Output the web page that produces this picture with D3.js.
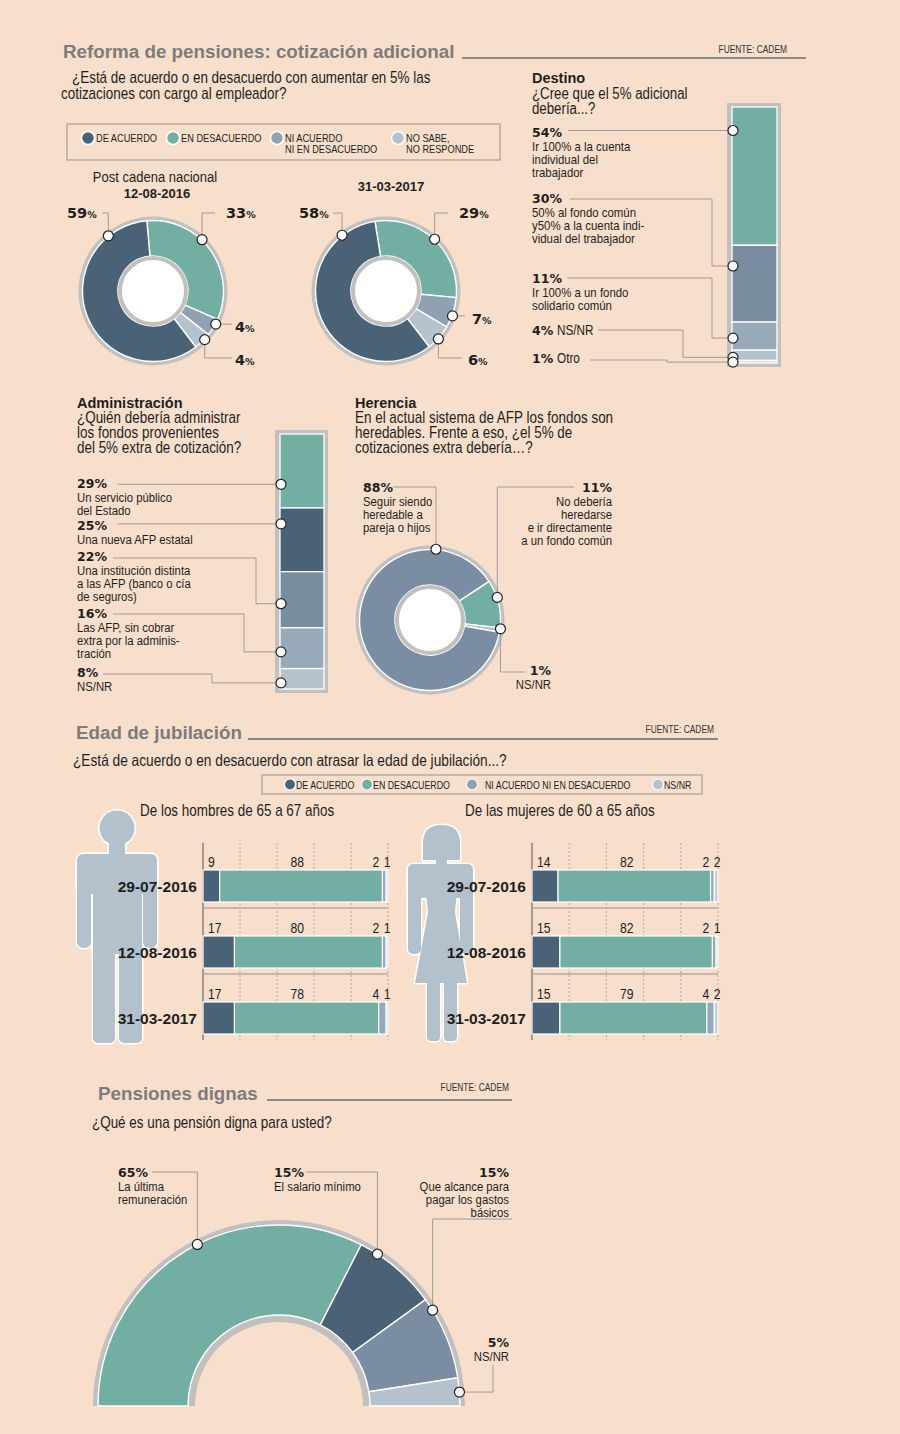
<!DOCTYPE html>
<html lang="es">
<head>
<meta charset="utf-8">
<title>Reforma de pensiones</title>
<script src="https://cdn.jsdelivr.net/npm/d3@7/dist/d3.min.js"></script>
<style>
html,body{margin:0;padding:0;background:#f8dfcb;}
svg{display:block;}
</style>
</head>
<body>
<svg id="chart" width="900" height="1434"></svg>
<script>
// ================= DATA =================
const legendCategories = [["DE ACUERDO"],["EN DESACUERDO"],["NI ACUERDO","NI EN DESACUERDO"],["NO SABE,","NO RESPONDE"]];
const legendCategories2 = ["DE ACUERDO","EN DESACUERDO","NI ACUERDO NI EN DESACUERDO","NS/NR"];

const cotizDates = ["12-08-2016","31-03-2017"];
const cotiz2016 = [59,33,4,4];   // de acuerdo, en desacuerdo, ni/ni, ns/nr
const cotiz2017 = [58,29,7,6];

const destinoValues = [54,30,11,4,1];
const destinoLabels = [
  ["Ir 100% a la cuenta","individual del","trabajador"],
  ["50% al fondo común","y50% a la cuenta indi-","vidual del trabajador"],
  ["Ir 100% a un fondo","solidario común"],
  ["NS/NR"],
  ["Otro"]
];

const adminValues = [29,25,22,16,8];
const adminLabels = [
  ["Un servicio público","del Estado"],
  ["Una nueva AFP estatal"],
  ["Una institución distinta","a las AFP (banco o cía","de seguros)"],
  ["Las AFP, sin cobrar","extra por la adminis-","tración"],
  ["NS/NR"]
];

const herenciaValues = [88,11,1];
const herenciaLabels = [
  ["Seguir siendo","heredable a","pareja o hijos"],
  ["No debería","heredarse","e ir directamente","a un fondo común"],
  ["NS/NR"]
];

const edadDates = ["29-07-2016","12-08-2016","31-03-2017"];
const edadHombres = [[9,88,2,1],[17,80,2,1],[17,78,4,1]];
const edadMujeres = [[14,82,2,2],[15,82,2,1],[15,79,4,2]];
const barTicks = [0,20,40,60,80,100];

const dignaValues = [65,15,15,5];
const dignaLabels = [["La última","remuneración"],["El salario mínimo"],["Que alcance para","pagar los gastos","básicos"],["NS/NR"]];

// ================= STYLE =================
const FN = "narrow";                                   // narrow body text (Liberation Sans compressed)
const FNF = "'Liberation Sans',Arial,sans-serif";
const SX = 0.84;
const FB = "'Liberation Sans',Arial,sans-serif";
const FW = "'DejaVu Sans',Verdana,sans-serif";
const INK = "#1e1e1e";
const TITLE = "#7c7c7c";
const RING = "#c2c0bf";
const LEAD = "#9c9c9c";
const C = {dark:"#4a6275", teal:"#72afa2", slate:"#7a8ca0", mid:"#98a9b9", light:"#b4c2ce", pale:"#d3dbe2", sil:"#b3c1cd"};
const donutColors = [C.dark, C.teal, "#8fa1b3", C.light];
const rad = d => d*Math.PI/180;

const svg = d3.select("#chart");
svg.append("rect").attr("width",900).attr("height",1434).attr("fill","#f8dfcb");

// ================= HELPERS =================
function txt(g,x,y,s,o={}){
  const ff=o.ff||FN, narrow=(ff===FN);
  const t=g.append("text").text(s)
    .attr("font-family",narrow?FNF:ff).attr("font-size",o.fs||13)
    .attr("font-weight",o.fw||"normal").attr("fill",o.fill||INK)
    .attr("text-anchor",o.anchor||"start");
  if(narrow) t.attr("transform",`translate(${x},${y}) scale(${SX},1)`);
  else t.attr("x",x).attr("y",y);
  return t;
}
function lines(g,x,y,arr,lh,o){ arr.forEach((s,i)=>txt(g,x,y+i*lh,s,o)); }
function pctSmall(g,x,y,v,anchor){
  const t=g.append("text").attr("x",x).attr("y",y).attr("text-anchor",anchor||"start").attr("fill",INK);
  t.append("tspan").text(v).attr("font-family",FW).attr("font-weight","bold").attr("font-size",14.5);
  t.append("tspan").text("%").attr("font-family",FW).attr("font-weight","bold").attr("font-size",9.5);
}
function pctBig(g,x,y,v,anchor){
  g.append("text").attr("x",x).attr("y",y).attr("text-anchor",anchor||"start").attr("fill",INK)
    .attr("font-family",FW).attr("font-weight","bold").attr("font-size",12.5).text(v+"%");
}
function leader(g,pts){
  g.append("path").attr("d",d3.line()(pts)).attr("fill","none").attr("stroke",LEAD).attr("stroke-width",1);
}
function leaderPts(type,L,m){
  const [mx,my]=m;
  if(type==="hv") return [[L.lx,L.ly],[mx,L.ly],[mx,my]];
  if(type==="vh") return [[mx,my],[mx,L.ly],[L.lx,L.ly]];
  if(type==="h") return [[L.lx,my],[mx,my]];
  if(type==="hvh") return [[L.lx,L.ly],[L.ex,L.ly],[L.ex,my],[mx,my]];
  if(type==="vhm") return [[L.lx,L.ly],[L.lx,my],[mx,my]];
  return [];
}
function marker(g,p){
  g.append("circle").attr("cx",p[0]).attr("cy",p[1]).attr("r",5).attr("fill","#fff").attr("stroke","#222").attr("stroke-width",1.2);
}
function header(g,x,y,title,lineX0,lineX1,srcX,srcY){
  txt(g,x,y,title,{ff:FB,fw:"bold",fs:18.8,fill:TITLE});
  g.append("line").attr("x1",lineX0).attr("x2",lineX1).attr("y1",y).attr("y2",y).attr("stroke","#8a8a8a").attr("stroke-width",2);
  txt(g,srcX,srcY,"FUENTE: CADEM",{fs:10,anchor:"end",fill:"#333"});
}

function donut(g,cx,cy,values,order,colors,startDeg,fracs){
  const pie=d3.pie().sort(null).value(d=>d.v).startAngle(rad(startDeg)).endAngle(rad(startDeg)+2*Math.PI);
  const arcs=pie(order.map(i=>({i,v:values[i]})));
  g.append("circle").attr("cx",cx).attr("cy",cy).attr("r",74.5).attr("fill",RING);
  const arc=d3.arc().innerRadius(35).outerRadius(70.5);
  g.selectAll(null).data(arcs).join("path")
    .attr("transform",`translate(${cx},${cy})`).attr("d",arc)
    .attr("fill",d=>colors[d.data.i]).attr("stroke","#fff").attr("stroke-width",1.4);
  g.append("circle").attr("cx",cx).attr("cy",cy).attr("r",33).attr("fill","#fff").attr("stroke",RING).attr("stroke-width",4);
  const pos=[];
  arcs.forEach(a=>{const ang=a.startAngle+fracs[a.data.i]*(a.endAngle-a.startAngle);
    pos[a.data.i]=[cx+71*Math.sin(ang),cy-71*Math.cos(ang)];});
  return pos;
}

function vbar(g,x,w,y0,y1,values,colors,fracs){
  g.append("rect").attr("x",x-5).attr("y",y0-4).attr("width",w+9).attr("height",y1-y0+8).attr("fill",RING);
  const y=d3.scaleLinear().domain([0,100]).range([y0,y1]);
  let cum=0;
  const segs=values.map((v,i)=>{const s={i,a:cum,b:cum+v};cum+=v;return s;});
  g.selectAll(null).data(segs).join("rect")
    .attr("x",x).attr("width",w).attr("y",d=>y(d.a)).attr("height",d=>y(d.b)-y(d.a))
    .attr("fill",d=>colors[d.i]).attr("stroke","#fff").attr("stroke-width",1.3);
  return segs.map(s=>[x+1,y(s.a)+fracs[s.i]*(y(s.b)-y(s.a))]);
}

// ================= SECTION 1 =================
const s1=svg.append("g");
header(s1,63,58,"Reforma de pensiones: cotización adicional",462,806,787,53);
txt(s1,72,83,"¿Está de acuerdo o en desacuerdo con aumentar en 5% las",{fs:16});
txt(s1,61,99,"cotizaciones con cargo al empleador?",{fs:16});

// legend 1
s1.append("rect").attr("x",67).attr("y",124).attr("width",433).attr("height",36).attr("fill","none").attr("stroke","#b5aca5").attr("stroke-width",1.5);
const leg1X=[88,173,277,398];
legendCategories.forEach((c,i)=>{
  s1.append("circle").attr("cx",leg1X[i]).attr("cy",138).attr("r",6.5).attr("fill",donutColors[i]).attr("stroke","#fff").attr("stroke-width",1.5);
  lines(s1,leg1X[i]+8,142,c,11,{fs:11});
});

txt(s1,155,182,"Post cadena nacional",{fs:15.5,anchor:"middle"});
txt(s1,157,198,cotizDates[0],{ff:FB,fw:"bold",fs:13,anchor:"middle"});
txt(s1,391,191,cotizDates[1],{ff:FB,fw:"bold",fs:13,anchor:"middle"});

const donutOrder=[1,2,3,0];
const d1=s1.append("g"), d2=s1.append("g");
const m1=donut(d1,153,291,cotiz2016,donutOrder,donutColors,-5,[0.84,0.41,0.28,0.35]);
const m2=donut(d2,386,291,cotiz2017,donutOrder,donutColors,-9,[0.86,0.5,0.6,0.55]);

const d1Lab=[{x:67,y:218,t:"hv",lx:102,ly:213},{x:226,y:218,t:"hv",lx:215,ly:213},{x:235,y:332,t:"h",lx:232},{x:235,y:365,t:"vh",lx:232,ly:358}];
const d2Lab=[{x:299,y:218,t:"hv",lx:333,ly:213},{x:459,y:218,t:"hv",lx:448,ly:213},{x:472,y:324,t:"h",lx:465},{x:468,y:365,t:"vh",lx:462,ly:358}];
[[cotiz2016,m1,d1Lab],[cotiz2017,m2,d2Lab]].forEach(([vals,ms,labs])=>{
  labs.forEach((L,i)=>{ leader(s1,leaderPts(L.t,L,ms[i])); pctSmall(s1,L.x,L.y,vals[i]); });
  ms.forEach(p=>marker(s1,p));
});

// ---- Destino ----
const sd=svg.append("g");
txt(sd,532,83,"Destino",{ff:FB,fw:"bold",fs:14.5});
txt(sd,532,99,"¿Cree que el 5% adicional",{fs:15.8});
txt(sd,532,114,"debería...?",{fs:15.8});
const destColors=[C.teal,C.slate,C.mid,C.light,C.pale];
const dm=vbar(sd,732,45,107,363,destinoValues,destColors,[0.17,0.27,0.57,0.7,0.67]);
const destLab=[
  {y:137,t:"h",lx:568},
  {y:203,t:"hvh",lx:570,ly:199,ex:712},
  {y:283,t:"hvh",lx:567,ly:278,ex:712},
  {y:335,t:"hvh",lx:598,ly:330,ex:683,inline:true},
  {y:363,t:"hvh",lx:590,ly:360,ex:667,inline:true}
];
destLab.forEach((L,i)=>{
  leader(sd,leaderPts(L.t,L,dm[i]));
  pctBig(sd,532,L.y,destinoValues[i]);
  if(L.inline){ txt(sd,557,L.y,destinoLabels[i][0],{fs:14}); }
  else { lines(sd,532,L.y+14,destinoLabels[i],13,{fs:13.6}); }
});
dm.forEach(p=>marker(sd,p));

// ================= SECTION 2 =================
const sa=svg.append("g");
txt(sa,77,408,"Administración",{ff:FB,fw:"bold",fs:14.5});
lines(sa,77,423,["¿Quién debería administrar","los fondos provenientes","del 5% extra de cotización?"],15,{fs:16});
const adminColors=[C.teal,C.dark,C.slate,C.mid,C.light];
const am=vbar(sa,280,44,434,689,adminValues,adminColors,[0.68,0.25,0.57,0.59,0.7]);
const adminLab=[
  {y:488,t:"h",lx:118},
  {y:530,t:"h",lx:118},
  {y:561,t:"hvh",lx:113,ly:558,ex:256},
  {y:618,t:"hvh",lx:113,ly:614,ex:244},
  {y:677,t:"hvh",lx:103,ly:674,ex:212}
];
adminLab.forEach((L,i)=>{
  leader(sa,leaderPts(L.t,L,am[i]));
  pctBig(sa,77,L.y,adminValues[i]);
  lines(sa,77,L.y+14,adminLabels[i],13,{fs:13.5});
});
am.forEach(p=>marker(sa,p));

// ---- Herencia ----
const sh=svg.append("g");
txt(sh,355,408,"Herencia",{ff:FB,fw:"bold",fs:14.5});
lines(sh,355,423,["En el actual sistema de AFP los fondos son","heredables. Frente a eso, ¿el 5% de","cotizaciones extra debería…?"],15,{fs:16});
const herColors=["#7a8da2",C.teal,C.light];
const hm=donut(sh,430,620,herenciaValues,[1,2,0],herColors,56.8,[0.836,0.37,0.2]);
const herLab=[
  {x:363,y:492,anchor:"start",t:"hv",lx:393,ly:487},
  {x:612,y:492,anchor:"end",t:"hv",lx:574,ly:487},
  {x:551,y:675,anchor:"end",t:"vh",lx:525,ly:672}
];
herLab.forEach((L,i)=>{
  leader(sh,leaderPts(L.t,L,hm[i]));
  pctBig(sh,L.x,L.y,herenciaValues[i],L.anchor);
  lines(sh,L.x,L.y+14,herenciaLabels[i],13,{fs:13.5,anchor:L.anchor});
});
hm.forEach(p=>marker(sh,p));

// ================= SECTION 3 =================
const se=svg.append("g");
header(se,76,739,"Edad de jubilación",248,718,714,733);
txt(se,73,766,"¿Está de acuerdo o en desacuerdo con atrasar la edad de jubilación...?",{fs:16.3});
se.append("rect").attr("x",262).attr("y",775).attr("width",440).attr("height",19).attr("fill","none").attr("stroke","#b5aca5").attr("stroke-width",1.5);
const leg2X=[290,367,472,658];
const barColors=[C.dark,C.teal,"#95a7b9","#c3ced8"];
legendCategories2.forEach((c,i)=>{
  se.append("circle").attr("cx",leg2X[i]).attr("cy",784.5).attr("r",5.5).attr("fill",[C.dark,C.teal,"#8fa1b3",C.light][i]).attr("stroke","#fff").attr("stroke-width",1.2);
  txt(se,leg2X[i]+(i===2?13:6),788.5,c,{fs:10.5});
});
txt(se,140,816,"De los hombres de 65 a 67 años",{fs:16});
txt(se,465,816,"De las mujeres de 60 a 65 años",{fs:16});

// silhouettes
function silhouette(g,pieces){
  const a=g.append("g"), b=g.append("g");
  [a,b].forEach((layer,k)=>{
    pieces.forEach(p=>{
      let el;
      if(p.c) el=layer.append("circle").attr("cx",p.c[0]).attr("cy",p.c[1]).attr("r",p.c[2]);
      else if(p.r) el=layer.append("rect").attr("x",p.r[0]).attr("y",p.r[1]).attr("width",p.r[2]).attr("height",p.r[3]).attr("rx",p.r[4]||0);
      else el=layer.append("path").attr("d",p.d);
      el.attr("fill",C.sil);
      if(k===0) el.attr("stroke","#fff").attr("stroke-width",3).attr("stroke-linejoin","round");
    });
  });
}
silhouette(se,[
  {c:[117,828,17.5]},
  {r:[109,840,16,18]},
  {r:[77,854,80,40,9]},
  {r:[77,854,14,94,6]},
  {r:[143,854,14,94,6]},
  {r:[93,854,49,100]},
  {r:[93,940,22,103,5]},
  {r:[119,940,23,103,5]}
]);
silhouette(se,[
  {d:"M423,860 L423,843 Q423,825 441.5,825 Q460,825 460,843 L460,860 Z"},
  {r:[436,852,11,16]},
  {r:[408,864,65,34,9]},
  {r:[408,864,13,90,5]},
  {r:[460,864,13,90,5]},
  {d:"M423,866 L459,866 L455,912 L467,983 L415,983 L428,912 Z"},
  {r:[427,975,13,66,4]},
  {r:[444,975,13,66,4]}
]);

function hbars(g,x0,x1,rows){
  const x=d3.scaleLinear().domain([0,100]).range([x0,x1]);
  const y=d3.scalePoint().domain(edadDates).range([886,1018]);
  g.selectAll(null).data(barTicks.slice(1)).join("line")
    .attr("x1",d=>x(d)).attr("x2",d=>x(d)).attr("y1",843).attr("y2",1040)
    .attr("stroke","#a09a96").attr("stroke-width",0.8).attr("stroke-dasharray","2,2");
  g.append("line").attr("x1",x(0)).attr("x2",x(0)).attr("y1",843).attr("y2",1040).attr("stroke","#555").attr("stroke-width",1);
  edadDates.slice(0,2).forEach(dt=>{
    g.append("line").attr("x1",x(0)).attr("x2",x(100)).attr("y1",y(dt)+22).attr("y2",y(dt)+22).attr("stroke","#b3aaa3").attr("stroke-width",1.5);
  });
  const labAt=[{v:0,dx:5,a:"start"},{v:51,dx:0,a:"middle"},{v:93.5,dx:0,a:"middle"},{v:99.5,dx:0,a:"middle"}];
  rows.forEach((vals,r)=>{
    const dt=edadDates[r], cy=y(dt);
    let cum=0;
    const segs=vals.map((v,i)=>{const s={i,a:cum,b:cum+v};cum+=v;return s;});
    g.selectAll(null).data(segs).join("rect")
      .attr("x",d=>x(d.a)).attr("width",d=>x(d.b)-x(d.a)).attr("y",cy-16).attr("height",32)
      .attr("fill",d=>barColors[d.i]).attr("stroke","#fff").attr("stroke-width",1.2);
    vals.forEach((v,i)=>txt(g,x(labAt[i].v)+labAt[i].dx,cy-19.5,v,{fs:14.5,anchor:labAt[i].a}));
    txt(g,x0-6,cy+6,dt,{ff:FB,fw:"bold",fs:15.5,anchor:"end"});
  });
}
hbars(se,203,388,edadHombres);
hbars(se,532,718,edadMujeres);

// ================= SECTION 4 =================
const sp=svg.append("g");
header(sp,98,1100,"Pensiones dignas",267,512,509,1091);
txt(sp,92,1128,"¿Qué es una pensión digna para usted?",{fs:16});
const pcx=279, pcy=1406;
sp.append("path").attr("transform",`translate(${pcx},${pcy})`)
  .attr("d",d3.arc()({innerRadius:84,outerRadius:186,startAngle:-Math.PI/2,endAngle:Math.PI/2}))
  .attr("fill",RING);
const dignaColors=[C.teal,C.dark,"#7a8da2",C.light];
const half=d3.pie().sort(null).startAngle(-Math.PI/2).endAngle(Math.PI/2)(dignaValues);
sp.selectAll(null).data(half).join("path").attr("transform",`translate(${pcx},${pcy})`)
  .attr("d",d3.arc().innerRadius(91).outerRadius(181)).attr("fill",(d,i)=>dignaColors[i])
  .attr("stroke","#fff").attr("stroke-width",1.4);
const dFr=[0.54,0.22,0.15,0.51];
const pm=half.map((a,i)=>{const ang=a.startAngle+dFr[i]*(a.endAngle-a.startAngle);return [pcx+181*Math.sin(ang),pcy-181*Math.cos(ang)];});
const dignaLab=[
  {x:118,y:1177,anchor:"start",t:"hv",lx:152,ly:1172},
  {x:274,y:1177,anchor:"start",t:"hv",lx:306,ly:1172},
  {x:509,y:1177,anchor:"end",t:"hv",lx:512,ly:1219},
  {x:509,y:1347,anchor:"end",t:"vhm",lx:493,ly:1365}
];
dignaLab.forEach((L,i)=>{
  leader(sp,leaderPts(L.t,L,pm[i]));
  pctBig(sp,L.x,L.y,dignaValues[i],L.anchor);
  lines(sp,L.x,L.y+14,dignaLabels[i],13,{fs:13.5,anchor:L.anchor});
});
pm.forEach(p=>marker(sp,p));
</script>
</body>
</html>
